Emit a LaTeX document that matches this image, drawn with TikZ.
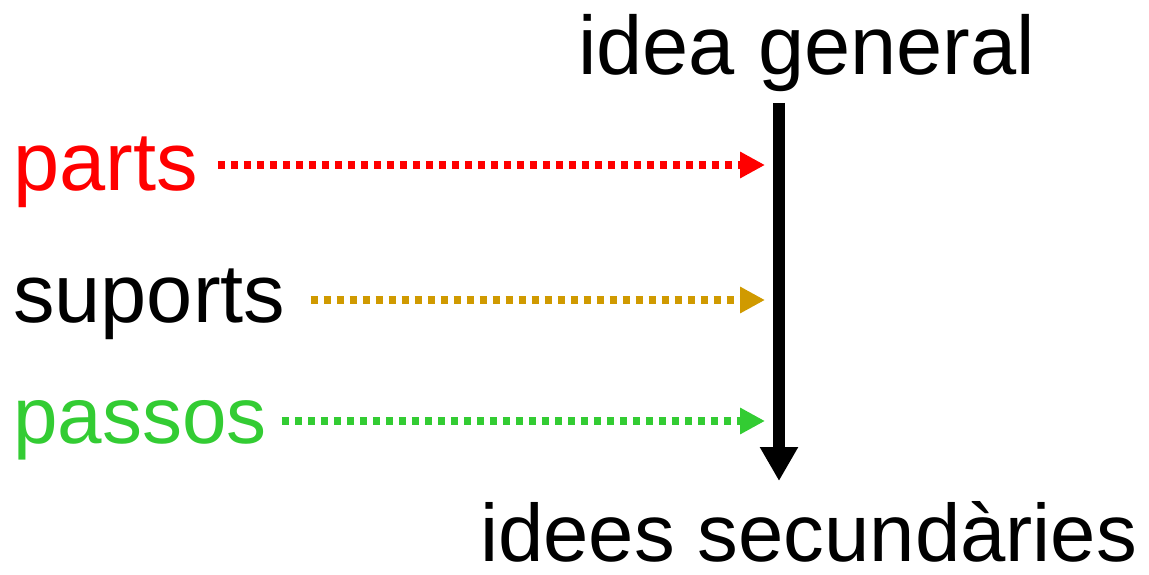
\documentclass[tikz,border=0pt]{standalone}
\usepackage{fontspec}
\setmainfont{Liberation Sans}
\usetikzlibrary{arrows.meta}
\definecolor{cred}{RGB}{255,0,0}
\definecolor{corange}{RGB}{208,154,0}
\definecolor{cgreen}{RGB}{51,204,51}
\begin{document}
\begin{tikzpicture}[x=1pt,y=-1pt,
  lbl/.style={inner sep=0pt,font=\fontsize{83}{90}\selectfont},
  dotarrow/.style={line width=7.5pt,dash pattern=on 7pt off 6pt,-{Triangle[length=25pt,width=25pt]}},
  spine/.style={line width=12pt,-{Triangle[length=34pt,width=36pt]}}]
\useasboundingbox (0,0) rectangle (1149,575);
\node[lbl,anchor=base west] (gen) at (578,75) {idea general};
\node[lbl,anchor=base west,font=\fontsize{81.5}{90}\selectfont] (sec) at (480,561) {idees secundàries};
\node[lbl,anchor=base west,text=cred] (parts) at (13,190) {parts};
\node[lbl,anchor=base west] (sup) at (13,322) {suports};
\node[lbl,anchor=base west,text=cgreen,font=\fontsize{80}{90}\selectfont] (pas) at (13,443) {passos};
\coordinate (top) at (779,103);
\coordinate (bot) at (779,481);
\coordinate (e1) at (765,165);
\coordinate (e2) at (765,300);
\coordinate (e3) at (765,421);
\draw[spine] (top) -- (bot);
\draw[dotarrow,cred] ([xshift=20pt]parts.east |- e1) -- (e1);
\draw[dotarrow,corange] ([xshift=25pt]sup.east |- e2) -- (e2);
\draw[dotarrow,cgreen] ([xshift=15pt]pas.east |- e3) -- (e3);
\end{tikzpicture}
\end{document}
